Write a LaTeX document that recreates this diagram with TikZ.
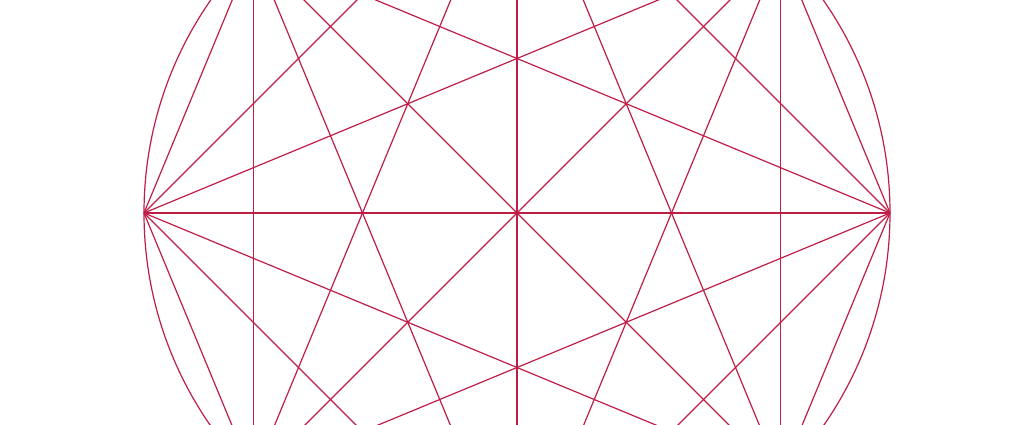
\documentclass[tikz,border=0pt]{standalone}
\usetikzlibrary{calc}
\definecolor{linecol}{RGB}{190,30,70}
\tikzset{chord/.style={draw=linecol,line width=1.2pt}}
\begin{document}
\begin{tikzpicture}[x=1pt,y=-1pt]
\useasboundingbox (0,0) rectangle (1035,425);
\coordinate (O) at (517,213);
\foreach \k in {0,...,7}{
  \coordinate (P\k) at ($(O)+({373*cos(45*\k)},{-373*sin(45*\k)})$);
}
\begin{scope}
\clip (0,0) rectangle (1035,425);
\draw[chord] (O) circle[radius=373];
\foreach \i in {0,...,6}{
  \pgfmathtruncatemacro{\s}{\i+1}
  \foreach \j in {\s,...,7}{
    \draw[chord] (P\i) -- (P\j);
  }
}
\end{scope}
\end{tikzpicture}
\end{document}
